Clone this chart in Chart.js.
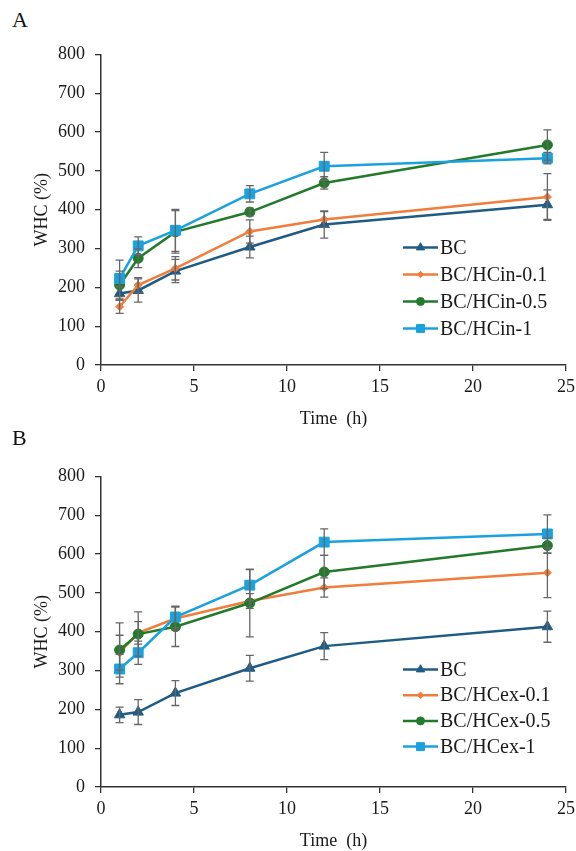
<!DOCTYPE html>
<html>
<head>
<meta charset="utf-8">
<script src="https://cdn.jsdelivr.net/npm/chart.js@4.4.0/dist/chart.umd.min.js"></script>
<style>
html, body { margin: 0; padding: 0; background: #fff; width: 576px; height: 851px; overflow: hidden; }
.wrap { position: absolute; left: 0; width: 580px; height: 440px; }
.panel-label { position: absolute; left: 12px; font: 22px "Liberation Serif", serif; color: #111; line-height: 1; }
</style>
</head>
<body>
<div class="panel-label" style="top:9px">A</div>
<div class="wrap" style="top:0"><canvas id="chartA" width="580" height="440"></canvas></div>
<div class="panel-label" style="top:427px">B</div>
<div class="wrap" style="top:422px"><canvas id="chartB" width="580" height="440"></canvas></div>
<script>
// sampling times (h)
const time = [1, 2, 4, 8, 12, 24];

// panel A : WHC (%) and error
const bcA      = [184, 192, 242, 304, 362, 413];
const bcA_err  = [17, 30, 30, 28, 35, 38];
const hcin01     = [150, 206, 249, 344, 375, 433];
const hcin01_err = [17, 19, 30, 30, 20, 60];
const hcin05     = [206, 275, 343, 394, 469, 567];
const hcin05_err = [36, 24, 55, 10, 16, 39];
const hcin1      = [223, 307, 347, 441, 512, 533];
const hcin1_err  = [47, 23, 54, 21, 36, 15];

// panel B
const bcB      = [186, 193, 242, 306, 363, 413];
const bcB_err  = [20, 32, 32, 33, 35, 40];
const hcex01     = [346, 397, 434, 479, 514, 552];
const hcex01_err = [45, 29, 30, 19, 25, 64];
const hcex05     = [353, 394, 413, 474, 554, 622];
const hcex05_err = [70, 57, 51, 87, 43, 20];
const hcex1      = [304, 346, 438, 520, 631, 652];
const hcex1_err  = [38, 30, 28, 40, 34, 49];

const labelsA = ['BC', 'BC/HCin-0.1', 'BC/HCin-0.5', 'BC/HCin-1'];
const labelsB = ['BC', 'BC/HCex-0.1', 'BC/HCex-0.5', 'BC/HCex-1'];

const xTicks = { min: 0, max: 25, step: 5 };
const yTicks = { min: 0, max: 800, step: 100 };

const serif = '"Liberation Serif", "Times New Roman", serif';
const ink = '#1a1a1a';
const axisColor = '#333';

// series styles
const styles = [
	{ color: '#1f5c85', pointStyle: 'triangle', radius: 6 },
	{ color: '#f07d3b', pointStyle: 'rectRot', radius: 4 },
	{ color: '#237a2a', pointStyle: 'circle', radius: 5 },
	{ color: '#1ba2de', pointStyle: 'rect', radius: 7 },
];

function toPoints(vals) {
	return time.map((t, i) => ({ x: t, y: vals[i] }));
}

function makeDatasets(labels, series, errors) {
	return series.map((vals, i) => ({
		label: labels[i],
		data: toPoints(vals),
		errors: errors[i],
		borderColor: styles[i].color,
		backgroundColor: styles[i].color,
		pointBackgroundColor: styles[i].color,
		pointBorderColor: styles[i].color,
		pointStyle: styles[i].pointStyle,
		pointRadius: styles[i].radius,
		pointBorderWidth: 1,
		borderWidth: 2.5,
		tension: 0,
		order: series.length - i,
	}));
}

// error bars drawn with the chart's own scales
const errorBars = {
	id: 'errorBars',
	afterDatasetsDraw(chart) {
		const ctx = chart.ctx;
		const x = chart.scales.x;
		const y = chart.scales.y;
		ctx.save();
		ctx.strokeStyle = '#666';
		ctx.lineWidth = 1.3;
		chart.data.datasets.forEach(ds => {
			ds.data.forEach((p, i) => {
				const e = ds.errors[i];
				const px = x.getPixelForValue(p.x);
				const top = y.getPixelForValue(p.y + e);
				const bot = y.getPixelForValue(p.y - e);
				ctx.beginPath();
				ctx.moveTo(px, top);
				ctx.lineTo(px, bot);
				ctx.moveTo(px - 4, top);
				ctx.lineTo(px + 4, top);
				ctx.moveTo(px - 4, bot);
				ctx.lineTo(px + 4, bot);
				ctx.stroke();
			});
		});
		ctx.restore();
	}
};

// legend inside the plot area
const innerLegend = {
	id: 'innerLegend',
	afterDraw(chart, args, opts) {
		const ctx = chart.ctx;
		const area = chart.chartArea;
		ctx.save();
		chart.data.datasets.forEach((ds, i) => {
			const yy = area.top + opts.top + i * opts.gap;
			const x0 = area.left + opts.left;
			const x1 = x0 + 35;
			ctx.strokeStyle = ds.borderColor;
			ctx.fillStyle = ds.borderColor;
			ctx.lineWidth = 2.5;
			ctx.beginPath();
			ctx.moveTo(x0, yy);
			ctx.lineTo(x1, yy);
			ctx.stroke();
			ctx.lineWidth = 1;
			Chart.helpers.drawPoint(ctx, {
				pointStyle: ds.pointStyle,
				radius: ds.pointRadius * 0.8,
				rotation: 0,
				borderWidth: 1
			}, (x0 + x1) / 2, yy);
			ctx.fillStyle = ink;
			ctx.font = '20px ' + serif;
			ctx.textBaseline = 'middle';
			ctx.textAlign = 'left';
			ctx.fillText(ds.label, x1 + 2, yy + 1);
		});
		ctx.restore();
	}
};

function makeConfig(labels, series, errors, legendGap) {
	return {
		type: 'line',
		data: { datasets: makeDatasets(labels, series, errors) },
		options: {
			responsive: false,
			animation: false,
			layout: { padding: { top: 54.5, right: 9, bottom: 0, left: 0 } },
			plugins: {
				legend: { display: false },
				tooltip: { enabled: false },
				innerLegend: { left: 302, top: 193, gap: legendGap },
			},
			scales: {
				x: {
					type: 'linear',
					min: xTicks.min,
					max: xTicks.max,
					ticks: { stepSize: xTicks.step, font: { family: serif, size: 18 }, color: ink, padding: 5, maxRotation: 0 },
					grid: { drawOnChartArea: false, tickLength: 6, color: axisColor, lineWidth: 1.3 },
					border: { color: axisColor, width: 1.5 },
					title: { display: true, text: 'Time  (h)', font: { family: serif, size: 18 }, color: ink, padding: { top: 0, bottom: 10 } },
					afterFit(s) { s.height = 75; }
				},
				y: {
					min: yTicks.min,
					max: yTicks.max,
					ticks: { stepSize: yTicks.step, font: { family: serif, size: 18 }, color: ink, padding: 10 },
					grid: { drawOnChartArea: false, tickLength: 6, color: axisColor, lineWidth: 1.3 },
					border: { color: axisColor, width: 1.5 },
					title: { display: true, text: 'WHC (%)', font: { family: serif, size: 18 }, color: ink, padding: { top: 31, bottom: 0 } },
					afterFit(s) { s.width = 101; }
				}
			}
		},
		plugins: [errorBars, innerLegend]
	};
}

let chartA = new Chart(document.getElementById('chartA'),
	makeConfig(labelsA, [bcA, hcin01, hcin05, hcin1], [bcA_err, hcin01_err, hcin05_err, hcin1_err], 27));
let chartB = new Chart(document.getElementById('chartB'),
	makeConfig(labelsB, [bcB, hcex01, hcex05, hcex1], [bcB_err, hcex01_err, hcex05_err, hcex1_err], 25.7));
</script>
</body>
</html>
